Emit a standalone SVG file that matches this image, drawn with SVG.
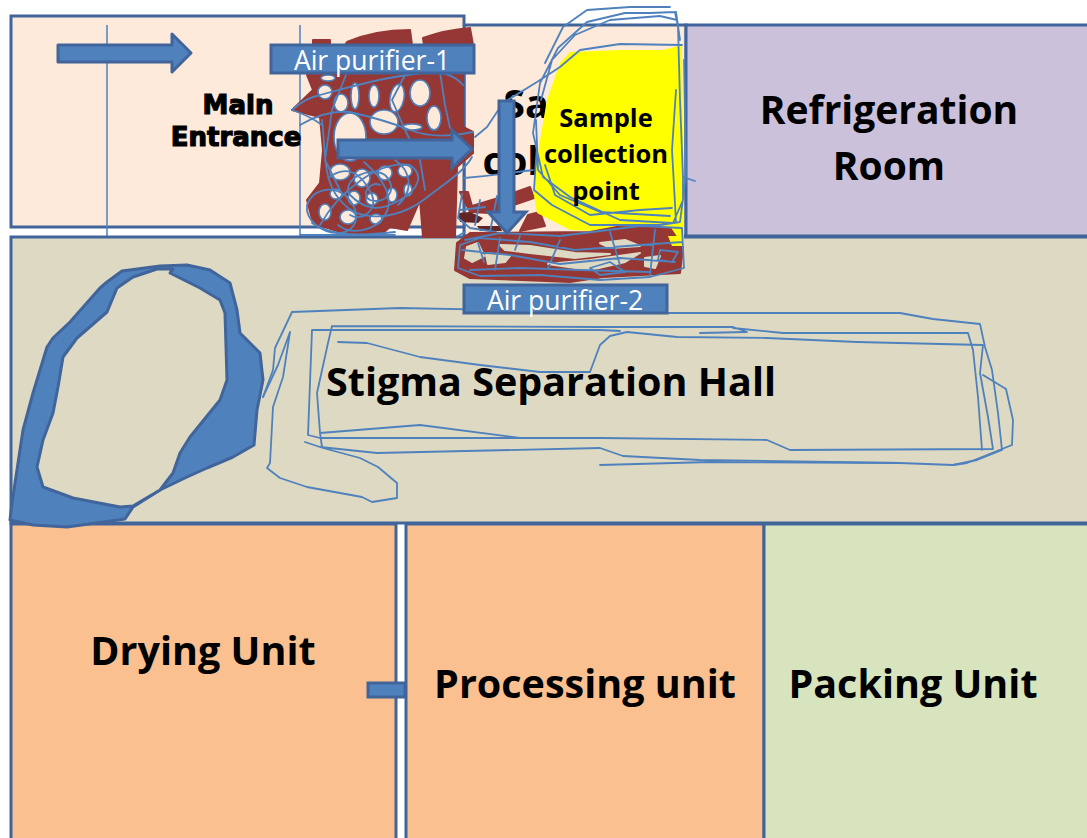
<svg xmlns="http://www.w3.org/2000/svg" width="1087" height="838" viewBox="0 0 1087 838">
<style>
.room{stroke:#41659a;stroke-width:3}
.t{font-family:"Open Sans","Noto Sans","Liberation Sans",sans-serif;font-weight:700;fill:#000;text-anchor:middle}
.w{font-family:"Open Sans","Noto Sans","Liberation Sans",sans-serif;fill:#fff;font-size:26.5px;text-anchor:middle}
.me{font-family:"DejaVu Sans",sans-serif;font-weight:700;font-size:26px;fill:#000;stroke:#000;stroke-width:1.2;text-anchor:middle}
.box{fill:#4f81bd;stroke:#41659a;stroke-width:3}
.ink{fill:none;stroke:#4f81bd;stroke-width:1.8;stroke-linejoin:round;stroke-linecap:round}
.mar{fill:#953735;stroke:#953735;stroke-width:2;stroke-linejoin:round}
.hole{fill:#fdeada;stroke:#4f81bd;stroke-width:1.6}
.hole2{fill:#ddd9c3;stroke:#ddd9c3;stroke-width:2;stroke-linejoin:round}
</style>
<rect width="1087" height="838" fill="#fff"/>
<g id="sample-room"><rect class="room" x="464" y="25" width="222" height="211" fill="#fdeada"/></g>
<g id="refrigeration-room"><rect class="room" x="686" y="25" width="403" height="211" fill="#ccc1da"/>
<text class="t" x="889" y="124" font-size="39">Refrigeration</text><text class="t" x="889" y="180" font-size="39">Room</text></g>
<g id="entrance-room"><rect class="room" x="11" y="16" width="453" height="211" fill="#fdeada"/>
<path d="M107 25V236M300 25V236" stroke="#4f81bd" stroke-width="1.5" fill="none"/></g>
<g id="stigma-hall"><rect class="room" x="11" y="237" width="1078" height="286" fill="#ddd9c3"/></g>
<g id="drying-unit"><rect class="room" x="11" y="524" width="385" height="320" fill="#fac090"/>
<text class="t" x="203" y="665" font-size="39.5">Drying Unit</text></g>
<g id="processing-unit"><rect class="room" x="406" y="524" width="358" height="320" fill="#fac090"/>
<text class="t" x="585" y="698" font-size="39.5">Processing unit</text></g>
<g id="packing-unit"><rect class="room" x="764" y="524" width="325" height="320" fill="#d7e4bd"/>
<text class="t" x="913" y="698" font-size="39.5">Packing Unit</text></g>
<g id="connector-stub"><rect class="box" x="368" y="683" width="37" height="14"/></g>

<g id="sample-label"><text class="t" x="526" y="118" font-size="39.5">Sa</text><text class="t" x="511" y="175" font-size="39.5">col</text></g>

<g id="maroon-entrance">
<path class="mar" d="M347 42Q375 30 410 30L412 45H345ZM423 38Q445 30 470 28L473 45H424ZM313 40H330V45H313ZM313 90L307 75H463V127L473 132V153L457 167L455 237H423L420 200L407 230L390 227L383 233H343L313 223L307 200L320 183L323 150L320 117L292 110Z"/>
<g class="hole">
<ellipse cx="325" cy="92" rx="7" ry="7"/><ellipse cx="341" cy="103" rx="7" ry="9"/><ellipse cx="328" cy="78" rx="7" ry="3"/>
<ellipse cx="355" cy="96" rx="4" ry="13"/><ellipse cx="397" cy="98" rx="7" ry="14" transform="rotate(10 397 98)"/><ellipse cx="420" cy="93" rx="10" ry="13"/><ellipse cx="434" cy="118" rx="7" ry="12"/>
<ellipse cx="350" cy="137" rx="16" ry="24"/><ellipse cx="384" cy="122" rx="14" ry="12"/><ellipse cx="412" cy="127" rx="10" ry="3"/><ellipse cx="374" cy="96" rx="5" ry="11"/>
<ellipse cx="340" cy="172" rx="10" ry="8"/><ellipse cx="362" cy="178" rx="8" ry="9"/><ellipse cx="385" cy="173" rx="7" ry="7"/><ellipse cx="405" cy="171" rx="7" ry="6"/>
<ellipse cx="336" cy="194" rx="6" ry="5"/><ellipse cx="354" cy="198" rx="6" ry="7"/><ellipse cx="325" cy="212" rx="6" ry="8"/><ellipse cx="348" cy="217" rx="8" ry="7"/><ellipse cx="372" cy="199" rx="6" ry="6"/><ellipse cx="392" cy="195" rx="5" ry="7"/><ellipse cx="376" cy="219" rx="6" ry="5"/><ellipse cx="408" cy="190" rx="4" ry="6"/>
</g>
<path class="ink" d="M292 110Q305 98 320 95Q345 88 370 82T430 72Q452 72 463 85M292 110Q310 116 322 125M300 125Q325 110 350 112Q385 120 410 130T473 132M322 120C326 150 322 180 340 200C360 225 400 220 430 195C450 180 465 170 472 157M346 75L332 110L325 160L340 190M405 75L392 100L405 130L420 160L425 190M440 72L445 105L450 128"/>
<path class="ink" d="M307 205C312 190 330 185 345 195C365 215 355 232 340 233C322 234 305 220 307 205ZM320 225C340 190 380 160 410 165C425 175 418 190 400 200C380 212 365 210 350 195C340 180 370 165 385 175C400 190 385 205 370 200C360 195 370 180 380 185M364 162C385 180 395 200 385 215C375 232 350 235 338 225M328 178C345 165 360 170 372 195C378 210 362 222 350 215M395 160C410 170 415 190 398 205M312 223C330 236 360 236 395 232"/>
<path class="ink" d="M300 235H395M458 236L465 232"/>
</g>

<g id="maroon-sample">
<path class="mar" d="M460 192L468 192L472 206L505 196L530 187L534 198L490 213L470 212ZM528 215L540 212L545 226L520 231Z"/>
<path d="M458 213L470 212L483 218L478 223L460 222ZM477 226L500 226L502 231L480 231Z" fill="#632523"/>
<path class="ink" d="M464 178C490 176 515 172 533 170M462 194L458 218L470 228L496 232M480 200L475 225M497 196L490 232M460 210L485 207"/>
</g>

<g id="sample-point">
<path d="M570 52L620 50L663 50L682 45L684 246L670 236L620 232L570 230L537 213L533 190L540 140L547 100L560 63Z" fill="#ff0"/>
<path class="ink" d="M475 137L487 127L503 103L537 82L560 67L580 50L620 44L682 45M545 63L563 27L587 10L630 7L670 7M675 12L678 27L680 100L683 177L683 200L673 223L620 220L570 197L543 177L533 133L540 83L558 48L587 22L625 13L650 13L675 12M683 177L695 181M537 145L534 190L552 205L590 225L660 225L680 222M676 90L672 150L676 222M545 165L555 195L590 215L640 210L672 208M684 60L686 175L680 222M680 40L676 12M541 100L552 60L575 35L610 20L660 16L677 20M536 120L538 170L560 195L600 212L670 216"/>
<g class="t" font-size="25.5"><text x="606" y="127">Sample</text><text x="606" y="163">collection</text><text x="606" y="200">point</text></g>
</g>

<g id="maroon-lower">
<path class="mar" d="M470 233L590 232L617 227L670 228L683 247L680 273L603 277L570 282L470 278L455 270L457 243Z"/>
<path d="M668 236L684 236V246L672 246Z" fill="#ff0"/>
<g class="hole2"><path d="M467 247L478 243L484 256L472 262L465 258Z"/><path d="M500 245L530 246L575 253L610 254L575 258L530 253L505 250Z"/><path d="M548 264L590 260L640 253L625 262L590 270L575 268Z"/><path d="M486 255L510 256L505 262L488 264Z"/><path d="M645 258L660 256L655 268L645 266Z"/><path d="M600 243L625 240L640 246L610 248Z"/></g>
<path class="ink" d="M465 240L500 233L560 236L640 226L682 228L684 268L650 277L600 280L540 275L480 276L458 268L460 245L480 238L530 242L575 250L640 245L682 242M462 250L510 255L560 264L620 258L675 262M470 270L520 268L580 270L650 272M500 238L495 270M560 240L548 268M610 232L620 265M655 230L650 275M590 268L610 262L625 272L600 275ZM660 250L678 252L672 262L658 260ZM478 243L484 262M520 236L515 250"/>
</g>

<g id="stigma-hall-label"><text class="t" x="551" y="396" font-size="39.5">Stigma Separation Hall</text></g>

<g id="blue-patch">
<path d="M10 520L12 503L20 450L23 430L33 393L47 347L53 338L70 322L100 288L107 282L122 271L160 266L187 265L210 270L230 283L237 310L240 333L260 353L263 380L257 410L254 445L233 457L207 468L187 477L160 490L133 507L125 519L67 527L33 525Z" fill="#4f81bd" stroke="#41659a" stroke-width="3" stroke-linejoin="round"/>
<path d="M170 273L200 288L220 300L225 313L227 380L220 400L190 437L180 453L173 473L160 490L133 506L120 507L73 498L43 487L37 467L43 440L53 413L58 387L63 357L77 338L107 312L117 288L133 277L157 269L173 269Z" fill="#ddd9c3" stroke="#41659a" stroke-width="3" stroke-linejoin="round"/>
</g>

<g id="hall-scribble">
<path class="ink" d="M263 397L273 370L275 348L292 312L400 308L668 313L900 313L933 319L980 324L985 347L992 370L998 413L1002 450L977 460L953 465L900 463L710 462L600 465"/>
<path class="ink" d="M263 397L278 365L290 332L283 377L273 407L270 463L267 468L280 478L307 487L362 497L372 502L397 498L397 483L378 467L360 458L323 448L305 442L320 447L377 453L600 448L623 456L700 460L900 463"/>
<path class="ink" d="M420 330H312L308 435L320 438L600 438L767 440L790 450L993 449L988 417L980 373L983 345L857 342L767 338L677 337L627 332L610 336L600 345L590 372L540 372L480 365L420 357L367 343L338 342"/>
<path class="ink" d="M332 326L328 343L317 393L320 433L322 447M320 433L420 425L520 438L600 438M332 326L600 327L733 327L747 332L700 333M733 328L783 333L968 333L973 350L978 397L982 450M420 330L600 330L620 331M983 375L1006 389L1013 420L1012 445L967 463L953 465"/>
</g>

<g id="arrow-1"><path class="box" d="M58 45H172V34L191 53L172 72V62H58Z" stroke-linejoin="round"/></g>
<g id="arrow-2"><path class="box" d="M338 140H452V130L472 149L452 168V158H338Z"/></g>
<g id="arrow-3"><path class="box" d="M499 101H514V212L526 212L507 233L488 212L499 212Z"/></g>
<g id="air-purifier-1"><rect class="box" x="271" y="45" width="203" height="28"/><text class="w" x="372" y="70">Air purifier-1</text></g>
<g id="air-purifier-2"><rect class="box" x="464" y="285" width="203" height="28"/><text class="w" x="565" y="310">Air purifier-2</text></g>
<g id="main-entrance"><text class="me" x="238" y="114">Main</text><text class="me" x="236" y="146">Entrance</text></g>
</svg>
